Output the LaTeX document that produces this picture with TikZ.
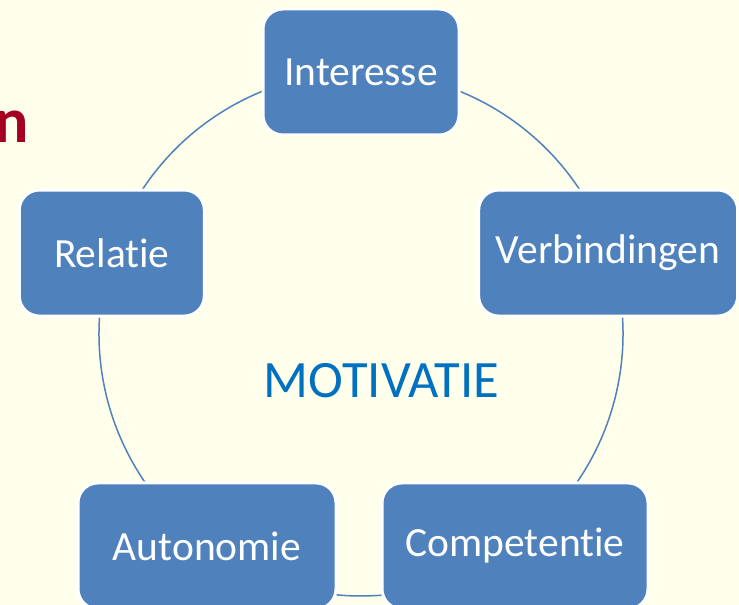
\documentclass[tikz,border=0pt]{standalone}
\usepackage{fontspec}
\setmainfont{Carlito}[Ligatures=NoCommon]
\definecolor{pagebg}{HTML}{FFFFEC}
\definecolor{stagefill}{HTML}{4F81BD}
\definecolor{motivblue}{HTML}{0070C0}
\definecolor{titlered}{HTML}{A50021}
\tikzset{
  stage/.style={rectangle, rounded corners=20pt, fill=stagefill, draw=white, line width=3pt,
    minimum height=126pt, inner sep=0pt, text=white, font=\fontsize{41.5}{50}\selectfont},
  cyclearc/.style={draw=stagefill, line width=1.5pt}
}
\begin{document}
\begin{tikzpicture}[x=1pt, y=1pt]
      \fill[pagebg] (0,0) rectangle (739,605);
      \useasboundingbox (0,0) rectangle (739,605);

      \coordinate (ctr) at (361,271);
      \foreach \name/\ang in {int/90, rel/162, aut/234, com/306, ver/18}
        \path (ctr) ++(\ang:262) coordinate (p-\name);

      % ring behind the boxes
      \foreach \from/\ang in {int/90, rel/162, aut/234, com/306, ver/18}
        \draw[cyclearc] (p-\from) arc[start angle=\ang, delta angle=72, radius=262pt];

      \node[stage, minimum width=196pt]            at (p-int)  (int)  {Interesse};
      \node[stage, minimum width=185pt]            at (p-rel)  (rel)  {Relatie};
      \node[stage, minimum width=258pt]            at (p-aut)  (aut)  {Autonomie};
      \node[stage, minimum width=266pt]            at (p-com)  (com)  {Competentie};
      \node[stage, minimum width=259pt, xshift=-2pt] at (p-ver) (ver) {Verbindingen};

      \node[anchor=base, inner sep=0pt, text=motivblue, font=\fontsize{52.5}{62}\selectfont]
        at (381.5,207) (motiv) {MOTIVATIE};
      \node[anchor=base east, inner sep=0pt, text=titlered, font=\fontsize{64}{76}\bfseries]
        at (29,462) (title) {n};
\end{tikzpicture}
\end{document}
